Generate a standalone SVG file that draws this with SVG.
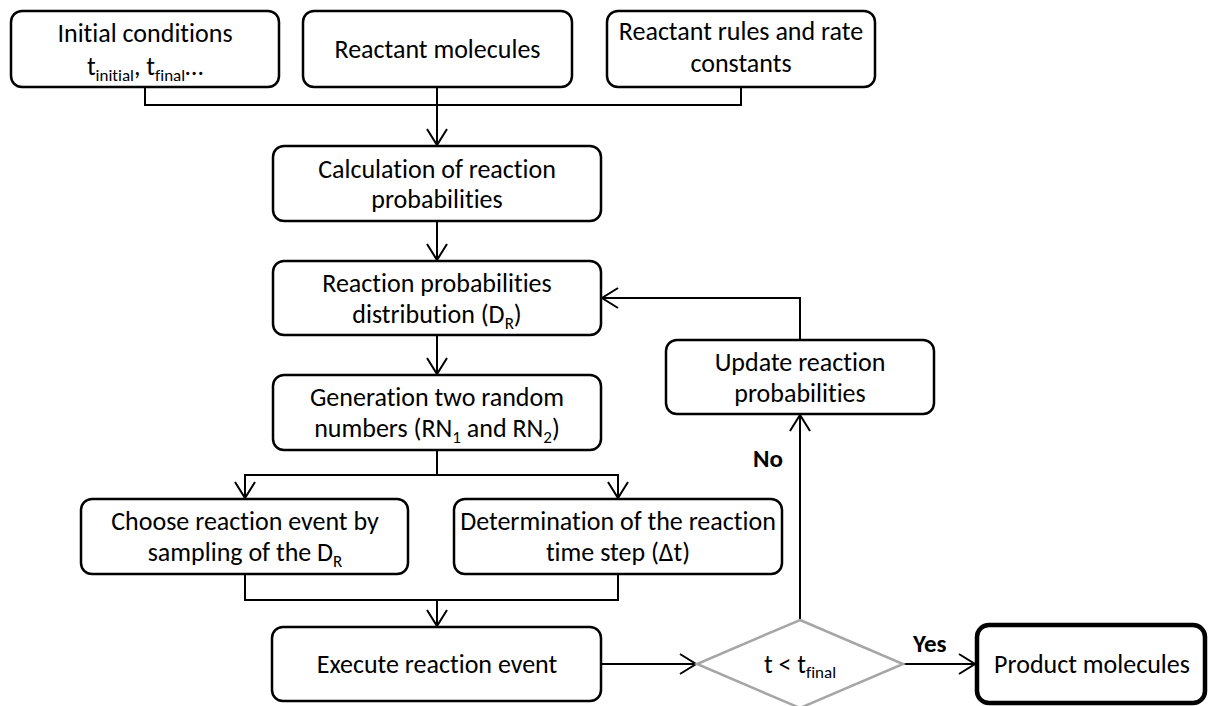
<svg xmlns="http://www.w3.org/2000/svg" width="1209" height="706" viewBox="0 0 1209 706">
<style>
.box{fill:#fff;stroke:#000;stroke-width:2.5}
.dia{fill:#fff;stroke:#a6a6a6;stroke-width:2.5}
.ln{fill:none;stroke:#000;stroke-width:2}
.t{font-family:Carlito,Lato,'Liberation Sans',sans-serif;font-size:26px;fill:#000;text-anchor:middle;font-variant-ligatures:none;font-feature-settings:"liga" 0}
.b{font-family:Carlito,Lato,'Liberation Sans',sans-serif;font-size:25px;font-weight:bold;fill:#000}
.s{font-size:17px}
</style>
<defs>
<marker id="ar" viewBox="-18 -12 20 24" markerWidth="20" markerHeight="24" refX="0" refY="0" orient="auto" markerUnits="userSpaceOnUse">
<path d="M-16,-10 L0,0 L-16,10" fill="none" stroke="#000" stroke-width="2"/>
</marker>
</defs>
<g id="connectors">
<polyline class="ln" points="145,87 145,105 741,105 741,87"/>
<line class="ln" x1="437" y1="87" x2="437" y2="145" marker-end="url(#ar)"/>
<line class="ln" x1="437" y1="221" x2="437" y2="260" marker-end="url(#ar)"/>
<line class="ln" x1="437" y1="335" x2="437" y2="374" marker-end="url(#ar)"/>
<polyline class="ln" points="437,450 437,475"/>
<polyline class="ln" points="245,498 245,475 618,475 618,498"/>
<line class="ln" x1="245" y1="475" x2="245" y2="498" marker-end="url(#ar)"/>
<line class="ln" x1="618" y1="475" x2="618" y2="498" marker-end="url(#ar)"/>
<polyline class="ln" points="245,574 245,600 618,600 618,574"/>
<line class="ln" x1="437" y1="600" x2="437" y2="626" marker-end="url(#ar)"/>
<line class="ln" x1="601" y1="664" x2="696" y2="664" marker-end="url(#ar)"/>
<line class="ln" x1="903" y1="664" x2="975" y2="664" marker-end="url(#ar)"/>
<line class="ln" x1="800" y1="620" x2="800" y2="415" marker-end="url(#ar)"/>
<polyline class="ln" points="800,340 800,298 602,298" marker-end="url(#ar)"/>
<text class="b" x="753" y="467">No</text>
<text class="b" x="913" y="652">Yes</text>
</g>
<g id="n1">
<rect class="box" x="11" y="11" width="268" height="76" rx="11"/>
<text class="t" x="145" y="42">Initial conditions</text>
<text class="t" x="145" y="75">t<tspan class="s" dy="6">initial</tspan><tspan dy="-6">, t</tspan><tspan class="s" dy="6">final</tspan><tspan dy="-6">…</tspan></text>
</g>
<g id="n2">
<rect class="box" x="303" y="11" width="269" height="76" rx="11"/>
<text class="t" x="437.5" y="58">Reactant molecules</text>
</g>
<g id="n3">
<rect class="box" x="607" y="11" width="268" height="76" rx="11"/>
<text class="t" x="741" y="40">Reactant rules and rate</text>
<text class="t" x="741" y="72">constants</text>
</g>
<g id="n4">
<rect class="box" x="273" y="146" width="328" height="75" rx="11"/>
<text class="t" x="437" y="178">Calculation of reaction</text>
<text class="t" x="437" y="208">probabilities</text>
</g>
<g id="n5">
<rect class="box" x="273" y="261" width="328" height="74" rx="11"/>
<text class="t" x="437" y="292">Reaction probabilities</text>
<text class="t" x="437" y="323">distribution (D<tspan class="s" dy="6">R</tspan><tspan dy="-6">)</tspan></text>
</g>
<g id="n6">
<rect class="box" x="273" y="375" width="328" height="75" rx="11"/>
<text class="t" x="437" y="406">Generation two random</text>
<text class="t" x="437" y="437">numbers (RN<tspan class="s" dy="6">1</tspan><tspan dy="-6"> and RN</tspan><tspan class="s" dy="6">2</tspan><tspan dy="-6">)</tspan></text>
</g>
<g id="n7">
<rect class="box" x="81" y="499" width="327" height="75" rx="11"/>
<text class="t" x="245" y="530">Choose reaction event by</text>
<text class="t" x="245" y="561">sampling of the D<tspan class="s" dy="6">R</tspan></text>
</g>
<g id="n8">
<rect class="box" x="454" y="499" width="328" height="75" rx="11"/>
<text class="t" x="618" y="530">Determination of the reaction</text>
<text class="t" x="618" y="561">time step (Δt)</text>
</g>
<g id="n9">
<rect class="box" x="272" y="627" width="329" height="74" rx="11"/>
<text class="t" x="437" y="673">Execute reaction event</text>
</g>
<g id="n10">
<polygon class="dia" points="800,620 903,664 800,708 697,664"/>
<text class="t" x="800" y="673">t &lt; t<tspan class="s" dy="5">final</tspan></text>
</g>
<g id="n11">
<rect x="977" y="625" width="228" height="78" rx="12" fill="#fff" stroke="#000" stroke-width="4.5"/>
<text class="t" x="1092" y="673">Product molecules</text>
</g>
<g id="n12">
<rect class="box" x="666" y="340" width="268" height="74" rx="11"/>
<text class="t" x="800" y="371">Update reaction</text>
<text class="t" x="800" y="402">probabilities</text>
</g>
</svg>
